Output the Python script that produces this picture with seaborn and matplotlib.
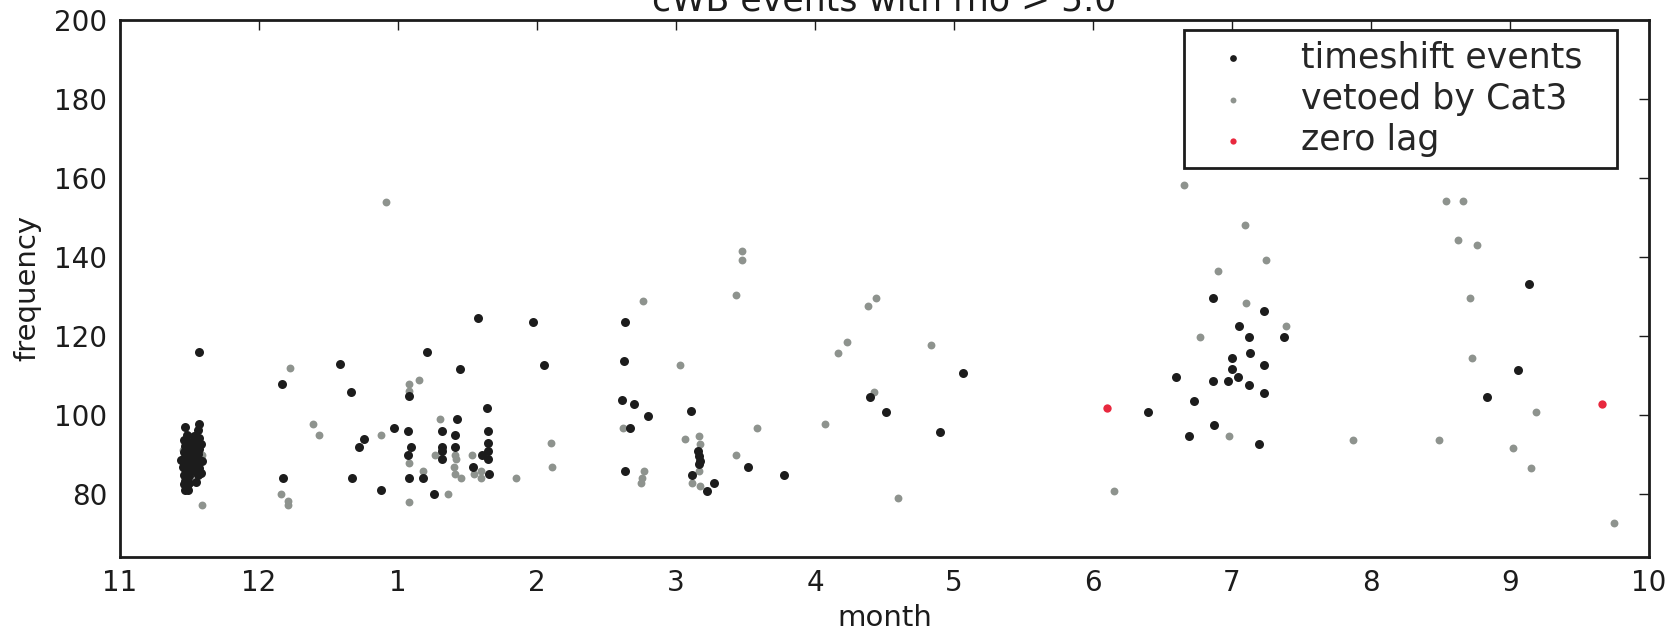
import matplotlib
matplotlib.use("Agg")
import matplotlib.pyplot as plt
import seaborn as sns
import pandas as pd

# x = months since 1 November (tick 0 = "11", tick 11 = "10")
tick_pos = list(range(12))
tick_labels = ["11", "12", "1", "2", "3", "4", "5", "6", "7", "8", "9", "10"]
y_ticks = [80, 100, 120, 140, 160, 180, 200]

# timeshift events (black)
black_x = [
    0.47, 0.48, 0.46, 0.47, 0.49, 0.46, 0.48, 0.47, 0.50, 0.46, 0.48, 0.47, 0.49, 0.46,
    0.48, 0.47, 0.46, 0.47, 0.49, 0.48,
    0.57, 0.56, 0.57, 0.55, 0.56, 0.57, 0.54, 0.56, 0.55, 0.57, 0.56, 0.54, 0.57, 0.55,
    0.56, 0.58, 0.55, 0.53, 0.52, 0.51, 0.53, 0.566,
    0.50, 0.51, 0.52, 0.50, 0.53, 0.51, 0.52, 0.50, 0.45, 0.59, 0.58, 0.44,
    1.168, 1.173, 1.580, 1.659, 1.758, 1.717, 1.667, 1.880, 1.969,
    2.070, 2.095, 2.070, 2.081, 2.080, 2.211, 2.182, 2.261, 2.314, 2.314, 2.314, 2.314,
    2.424, 2.412, 2.412, 2.448, 2.578, 2.542, 2.604, 2.640, 2.645, 2.645, 2.645, 2.645, 2.652,
    2.969, 3.048,
    3.635, 3.628, 3.611, 3.696, 3.799, 3.671, 3.633,
    4.110, 4.160, 4.165, 4.170, 4.165, 4.117, 4.225, 4.273,
    4.519, 4.779, 5.395, 5.513, 5.899, 6.065,
    7.399, 7.598, 7.728, 7.692, 7.872, 7.865, 8.230, 8.047, 8.124, 8.376, 8.131, 7.999,
    8.230, 7.999, 8.042, 7.860, 7.968, 8.124, 8.230, 8.191,
    10.060, 9.837, 10.134,
]
black_y = [
    96.9, 94.8, 93.5, 92.0, 91.2, 90.5, 89.8, 89.0, 88.4, 87.6, 87.0, 86.2, 85.5, 84.7,
    84.0, 83.2, 82.5, 80.8, 81.0, 82.0,
    97.7, 96.2, 94.0, 93.0, 92.2, 91.3, 90.6, 90.0, 89.2, 88.5, 87.8, 87.0, 86.4, 85.5,
    84.8, 85.3, 83.0, 89.5, 88.0, 86.5, 91.8, 115.8,
    93.0, 90.0, 86.0, 84.5, 94.5, 88.8, 91.0, 82.8, 86.8, 88.2, 92.5, 88.5,
    107.8, 84.0, 112.8, 105.8, 93.8, 91.8, 84.0, 80.8, 96.7,
    95.9, 91.8, 89.8, 84.0, 104.6, 115.8, 84.0, 79.9, 95.9, 91.8, 90.7, 88.8,
    98.8, 94.8, 91.8, 111.6, 124.6, 86.8, 89.8, 101.7, 95.9, 92.7, 90.7, 88.8, 84.9,
    123.6, 112.7,
    123.6, 113.7, 103.8, 102.8, 99.7, 96.7, 85.8,
    100.8, 90.9, 89.6, 88.3, 87.5, 84.8, 80.7, 82.8,
    86.8, 84.7, 104.5, 100.7, 95.7, 110.6,
    100.7, 109.5, 103.5, 94.6, 97.5, 129.5, 126.3, 122.5, 119.6, 119.6, 115.6, 114.4,
    112.6, 111.5, 109.5, 108.5, 108.5, 107.6, 105.5, 92.5,
    111.4, 104.4, 133.1,
]

# vetoed by Cat3 (grey)
gray_x = [
    0.45, 0.45, 0.47, 0.59, 0.59,
    1.220, 1.156, 1.209, 1.209, 1.388, 1.429, 1.875, 1.917,
    2.082, 2.082, 2.082, 2.082, 2.151, 2.177, 2.264, 2.360, 2.305, 2.410, 2.420, 2.405,
    2.410, 2.450, 2.530, 2.549, 2.600, 2.600, 2.849,
    3.101, 3.108, 3.765, 3.616, 3.773, 3.756, 3.749,
    4.477, 4.477, 4.430, 4.030, 4.064, 4.167, 4.174, 4.165, 4.117, 4.174, 4.434, 4.584,
    5.072, 5.168, 5.233, 5.378, 5.440, 5.424, 5.597, 5.836, 7.154,
    7.652, 7.771, 8.100, 8.091, 8.245, 7.897, 8.390, 7.977, 8.870,
    9.542, 9.662, 9.626, 9.763, 9.715, 9.724, 10.185, 9.489, 10.024, 10.153, 10.746,
]
gray_y = [
    91.0, 89.0, 84.0, 89.9, 77.0,
    111.7, 80.0, 78.1, 77.0, 97.7, 94.8, 94.8, 153.9,
    87.8, 107.8, 106.0, 77.9, 108.7, 85.8, 89.8, 79.9, 98.8, 89.8, 88.8, 86.8,
    84.9, 83.9, 89.8, 84.9, 85.8, 83.9, 83.9,
    92.7, 86.8, 128.8, 96.7, 85.8, 83.9, 82.8,
    141.4, 139.3, 130.4, 112.7, 93.8, 94.6, 92.5, 85.8, 82.8, 81.8, 89.7, 96.7,
    97.6, 115.6, 118.5, 127.6, 129.6, 105.7, 78.9, 117.7, 80.6,
    158.3, 119.6, 128.3, 148.1, 139.3, 136.4, 122.5, 94.6, 93.6,
    154.2, 154.2, 144.2, 143.0, 129.6, 114.3, 100.6, 93.5, 91.5, 86.5, 72.6,
]

# zero lag (red)
red_x = [7.104, 10.660]
red_y = [101.6, 102.6]

df = pd.concat([
    pd.DataFrame({"month": gray_x, "frequency": gray_y, "kind": "vetoed by Cat3"}),
    pd.DataFrame({"month": black_x, "frequency": black_y, "kind": "timeshift events"}),
    pd.DataFrame({"month": red_x, "frequency": red_y, "kind": "zero lag"}),
], ignore_index=True)

sns.set_style("white")
plt.rcParams["font.family"] = ["DejaVu Sans"]

fig = plt.figure(figsize=(16.73, 6.33), dpi=100)
ax = fig.add_axes([0.0717, 0.1205, 0.9140, 0.8479])

colors = {"timeshift events": "#1c1c1c", "vetoed by Cat3": "#8e938e", "zero lag": "#e8283e"}
sizes = {"timeshift events": 42, "vetoed by Cat3": 32, "zero lag": 36}
zs = {"vetoed by Cat3": 2, "timeshift events": 3, "zero lag": 4}
for kind in ["vetoed by Cat3", "timeshift events", "zero lag"]:
    sub = df[df["kind"] == kind]
    sns.scatterplot(data=sub, x="month", y="frequency", color=colors[kind],
                    s=sizes[kind], linewidth=0, ax=ax, zorder=zs[kind], label=kind)

h, l = ax.get_legend_handles_labels()
hm = dict(zip(l, h))
order = ["timeshift events", "vetoed by Cat3", "zero lag"]
leg = ax.legend([hm[k] for k in order], order, loc="upper left", mode="expand",
                bbox_to_anchor=(0.696, 0.0, 0.283, 0.982), borderaxespad=0, fontsize=25,
                frameon=True, fancybox=False, framealpha=1, edgecolor="#1c1c1c",
                labelspacing=0.22, handlelength=2.2, handletextpad=0.85,
                borderpad=0.3, markerscale=0.75)
leg.get_frame().set_linewidth(2)

ax.set_xlim(0, 11)
ax.set_ylim(64, 200)
ax.set_xticks(tick_pos)
ax.set_xticklabels(tick_labels)
ax.set_yticks(y_ticks)
ax.tick_params(direction="in", length=7, width=1, top=True, right=True,
               labelsize=20, pad=9, colors="#1c1c1c")
for sp in ax.spines.values():
    sp.set_visible(True)
    sp.set_linewidth(2)
    sp.set_color("#1c1c1c")

ax.set_xlabel("month", fontsize=21, labelpad=5, color="#1c1c1c")
ax.set_ylabel("frequency", fontsize=21, labelpad=9, color="#1c1c1c")
ax.set_title("cWB events with rho > 5.0", fontsize=25, pad=7, color="#1c1c1c")

fig.savefig("out.png", dpi=100, facecolor="white")
